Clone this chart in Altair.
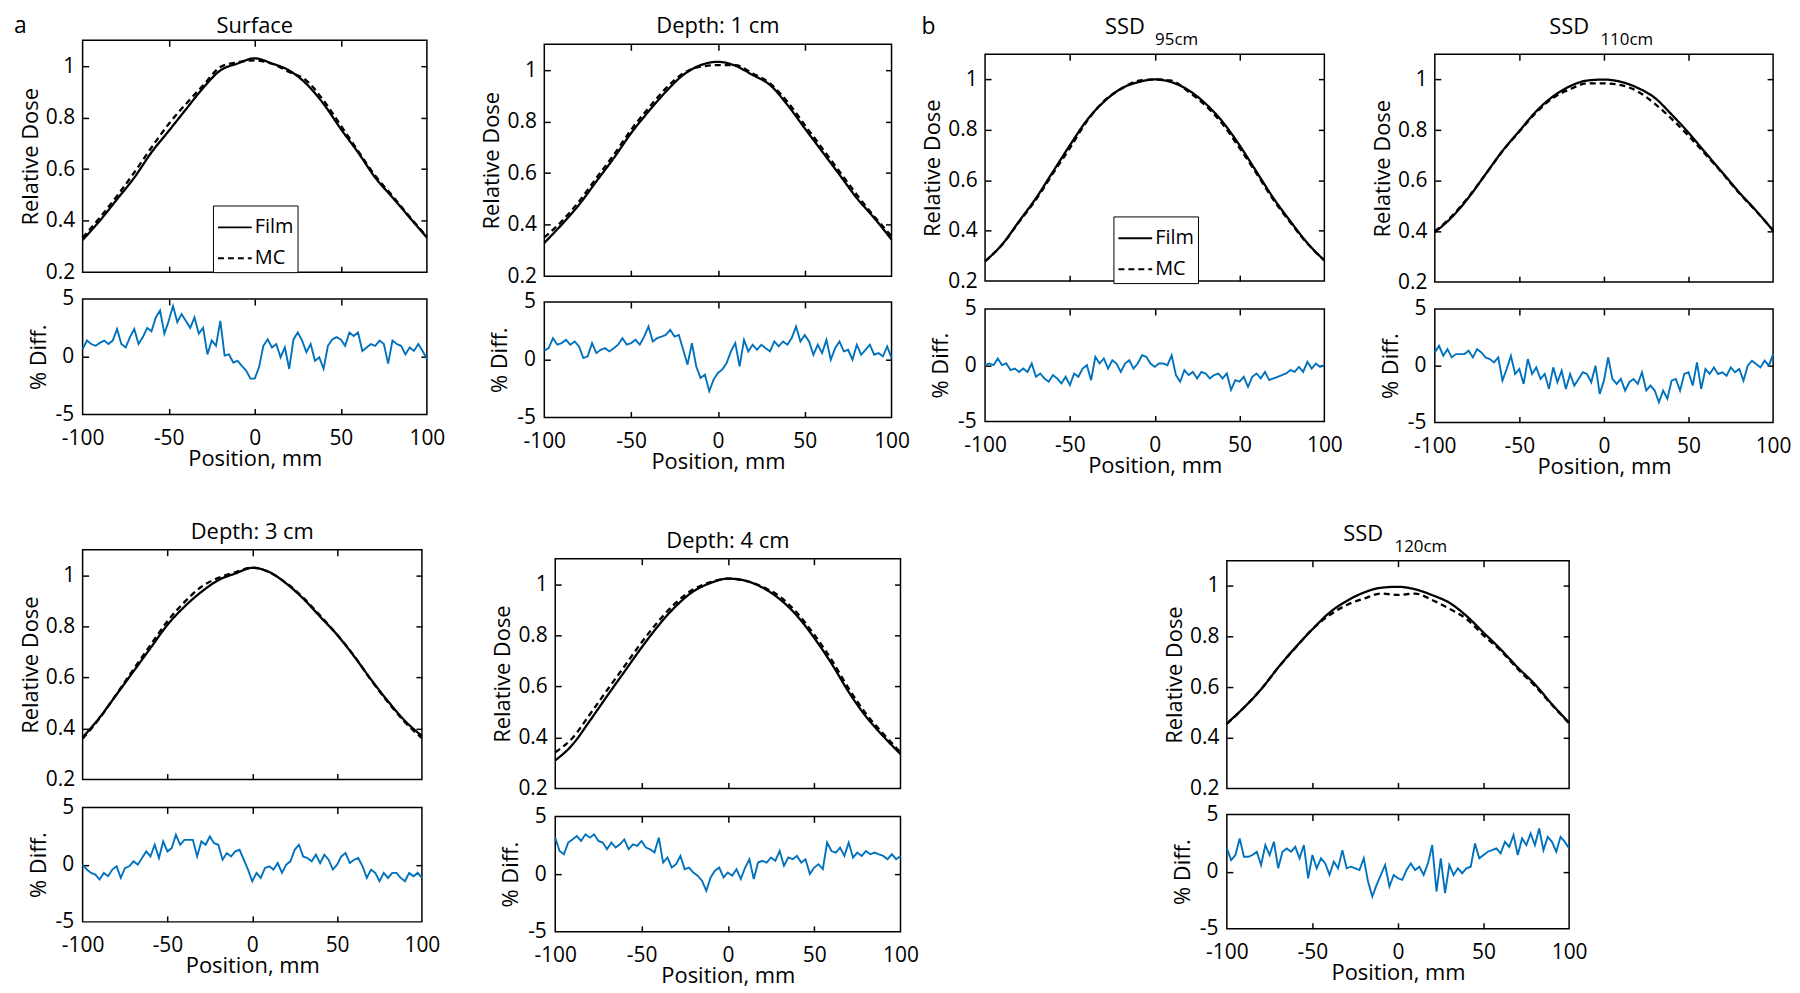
import altair as alt
import pandas as pd

FONT = "Open Sans"
BLUE = "#0072BD"

# ---------------- data ----------------
POS_DOSE = [-100, -90, -80, -70, -60, -50, -40, -30, -20, -10, 0,
            10, 20, 30, 40, 50, 60, 70, 80, 90, 100]

POS_DIFF = [-100, -97.5, -95, -92.5, -90, -87.5, -85, -82.5, -80, -77.5,
            -75, -72.5, -70, -67.5, -65, -62.5, -60, -57.5, -55, -52.5,
            -50, -47.5, -45, -42.5, -40, -37.5, -35, -32.5, -30, -27.5,
            -25, -22.5, -20, -17.5, -15, -12.5, -10, -7.5, -5, -2.5,
            0, 2.5, 5, 7.5, 10, 12.5, 15, 17.5, 20, 22.5,
            25, 27.5, 30, 32.5, 35, 37.5, 40, 42.5, 45, 47.5,
            50, 52.5, 55, 57.5, 60, 62.5, 65, 67.5, 70, 72.5,
            75, 77.5, 80, 82.5, 85, 87.5, 90, 92.5, 95, 97.5, 100]

SURF_FILM = [0.325, 0.40, 0.483, 0.567, 0.665, 0.748, 0.832, 0.915, 0.983, 1.01, 1.03,
             1.01, 0.983, 0.931, 0.853, 0.756, 0.665, 0.567, 0.49, 0.412, 0.334]
SURF_MC = [0.334, 0.412, 0.496, 0.587, 0.684, 0.775, 0.853, 0.925, 0.996, 1.015, 1.022,
           1.009, 0.977, 0.944, 0.866, 0.769, 0.671, 0.574, 0.496, 0.415, 0.338]
SURF_DIFF = [0.66, 1.4, 1.1, 0.95, 1.2, 1.4, 1.1, 1.4, 2.4, 1.1,
             0.8, 1.7, 2.4, 1.1, 1.7, 2.5, 2.2, 3.4, 4.0, 2.0,
             3.1, 4.4, 3.0, 3.7, 3.1, 2.5, 3.4, 2.0, 2.5, 0.2,
             1.4, 0.95, 3.1, 0.1, 0.2, -0.5, -0.35, -0.8, -1.2, -1.9,
             -1.9, -0.9, 0.95, 1.5, 0.8, 1.1, -0.05, 0.8, -1.05, 1.5,
             2.1, 1.4, 0.4, 1.1, -0.35, -0.05, -1.05, 0.95, 1.5, 1.7,
             1.5, 0.95, 2.1, 1.8, 2.1, 0.5, 0.8, 1.1, 0.95, 1.4,
             1.1, -0.6, 1.4, 1.1, 0.95, 0.2, 0.8, 0.5, 1.1, 0.5, -0.2]

DEP1_FILM = [0.329, 0.40, 0.477, 0.568, 0.658, 0.755, 0.839, 0.916, 0.981, 1.019, 1.032,
             1.017, 0.981, 0.942, 0.865, 0.774, 0.684, 0.594, 0.503, 0.426, 0.342]
DEP1_MC = [0.35, 0.413, 0.49, 0.581, 0.671, 0.768, 0.852, 0.929, 0.987, 1.013, 1.019,
           1.019, 0.987, 0.948, 0.877, 0.787, 0.697, 0.606, 0.516, 0.432, 0.355]
DEP1_DIFF = [0.78, 1.0, 1.87, 1.3, 1.44, 1.72, 1.3, 1.58, 1.15, 0.14,
             0.29, 1.44, 0.57, 0.86, 1.0, 0.72, 1.0, 1.3, 1.87, 1.3,
             1.44, 1.72, 1.3, 2.0, 2.87, 1.58, 1.87, 2.0, 2.15, 2.59,
             2.0, 2.15, 0.86, -0.43, 1.44, -0.57, -1.58, -1.29, -2.73, -1.72,
             -1.15, -0.86, -0.29, 0.72, 1.44, -0.57, 1.72, 0.72, 1.3, 0.86,
             1.3, 1.0, 0.72, 1.58, 1.15, 1.58, 1.3, 1.87, 2.87, 1.58,
             2.15, 1.58, 0.43, 1.3, 0.57, 1.72, 0.0, 1.0, 1.58, 0.72,
             0.86, 0.0, 1.3, 0.43, 0.86, 1.3, 0.43, 0.57, 0.29, 1.15, 0.14]

SSD95_FILM = [0.279, 0.345, 0.437, 0.529, 0.634, 0.739, 0.838, 0.911, 0.963, 0.989, 1.0,
              0.989, 0.957, 0.904, 0.832, 0.739, 0.634, 0.529, 0.437, 0.351, 0.282]
SSD95_MC = [0.279, 0.344, 0.434, 0.523, 0.627, 0.728, 0.834, 0.914, 0.962, 0.994, 1.0,
            0.995, 0.951, 0.896, 0.823, 0.728, 0.627, 0.522, 0.432, 0.349, 0.282]
SSD95_DIFF = [0, 0.15, 0, 0.6, 0, 0.15, -0.44, -0.3, -0.6, -0.3,
              -0.6, 0.15, -1.03, -0.74, -1.18, -1.47, -0.88, -1.18, -1.62, -1.03,
              -1.77, -0.74, -1.03, -0.3, 0, -1.33, 0.74, 0.15, 0.6, -0.3,
              0.44, 0.15, -0.6, 0.15, 0.44, -0.3, 0.15, 0.88, 0.74, 0.15,
              -0.15, 0.15, 0.15, 0, 0.88, -0.88, -1.47, -0.44, -0.88, -0.6,
              -1.18, -0.6, -0.74, -1.18, -0.88, -0.74, -1.18, -0.74, -2.2, -1.33,
              -1.47, -1.03, -1.92, -1.03, -0.74, -1.18, -0.6, -1.33, -1.18, -1.03,
              -0.88, -0.74, -0.44, -0.6, -0.15, -0.6, 0.3, -0.3, 0.15, -0.15, 0]

SSD110_FILM = [0.397, 0.456, 0.534, 0.626, 0.718, 0.797, 0.875, 0.934, 0.974, 0.996, 1.0,
               0.991, 0.967, 0.928, 0.862, 0.79, 0.711, 0.633, 0.554, 0.482, 0.403]
SSD110_MC = [0.40, 0.46, 0.537, 0.626, 0.717, 0.795, 0.87, 0.928, 0.962, 0.985, 0.985,
             0.978, 0.953, 0.905, 0.845, 0.778, 0.705, 0.63, 0.551, 0.48, 0.405]
SSD110_DIFF = [1.17, 1.75, 0.88, 1.46, 0.73, 1.02, 1.02, 1.02, 1.32, 0.73,
               1.46, 1.17, 0.73, 0.58, 0.29, 0.73, -1.32, -0.29, 0.88, -0.73,
               -0.29, -1.61, 0.58, -0.73, -0.15, -1.17, -0.73, -2.05, -0.15, -1.46,
               -0.44, -2.05, -0.73, -1.75, -1.17, -0.58, -0.73, -1.46, 0, -2.49,
               -1.32, 0.73, -1.17, -1.61, -1.17, -2.19, -1.46, -1.17, -1.61, -0.58,
               -2.19, -1.75, -2.19, -3.22, -2.19, -2.92, -1.32, -1.17, -2.19, -0.73,
               -0.58, -1.75, 0.29, -2.05, -0.29, -0.73, -0.15, -0.73, -0.58, -0.88,
               -0.15, -0.58, -0.29, -1.32, 0, 0.44, 0.15, -0.15, 0.44, 0, 1.02]

DEP3_FILM = [0.365, 0.443, 0.533, 0.624, 0.715, 0.806, 0.877, 0.935, 0.981, 1.007, 1.029,
             1.013, 0.968, 0.909, 0.838, 0.767, 0.683, 0.592, 0.507, 0.43, 0.371]
DEP3_MC = [0.36, 0.44, 0.535, 0.632, 0.727, 0.82, 0.895, 0.955, 0.99, 1.012, 1.03,
           1.012, 0.97, 0.913, 0.842, 0.768, 0.685, 0.59, 0.503, 0.425, 0.362]
DEP3_DIFF = [0, -0.43, -0.72, -0.87, -1.3, -0.72, -1.01, -0.43, -0.14, -1.16,
             -0.29, -0.14, 0.29, 0, 0.58, 1.16, 0.72, 1.74, 0.58, 2.03,
             1.16, 1.45, 2.61, 1.74, 2.17, 2.17, 2.17, 0.72, 2.03, 1.74,
             2.46, 1.88, 1.74, 0.43, 1.01, 0.72, 1.16, 1.3, 0.43, -0.43,
             -1.45, -0.72, -1.16, -0.29, -0.14, -0.43, 0.14, -0.72, 0, 0.29,
             1.3, 1.74, 0.72, 0.58, 0.29, 0.87, 0.14, 0.87, 0.43, -0.43,
             0, 0.72, 1.01, 0.14, 0.43, 0.58, -0.14, -1.16, -0.43, -0.72,
             -1.45, -0.72, -1.16, -0.72, -0.72, -1.16, -1.45, -0.72, -1.01, -0.72, -1.16]

DEP4_FILM = [0.31, 0.372, 0.465, 0.562, 0.657, 0.752, 0.84, 0.915, 0.972, 1.005, 1.022,
             1.014, 0.987, 0.942, 0.877, 0.79, 0.69, 0.578, 0.482, 0.405, 0.335]
DEP4_MC = [0.342, 0.398, 0.49, 0.585, 0.678, 0.772, 0.857, 0.928, 0.98, 1.008, 1.022,
           1.014, 0.99, 0.952, 0.888, 0.803, 0.705, 0.592, 0.493, 0.415, 0.342]
DEP4_DIFF = [3.16, 2.0, 1.72, 2.73, 3.0, 3.3, 2.87, 3.45, 3.16, 3.45,
             2.87, 2.73, 2.15, 2.73, 2.3, 2.58, 3.0, 2.15, 2.58, 2.44,
             2.87, 2.3, 2.15, 1.87, 3.16, 1.0, 1.44, 0.57, 0.86, 1.58,
             0.43, 0.57, 0.14, -0.14, -0.57, -1.44, -0.29, 0.29, 0.57, -0.29,
             0.14, -0.14, 0.43, -0.43, 0.57, 1.29, -0.43, 1.0, 1.15, 1.0,
             1.44, 1.15, 2.0, 0.72, 1.44, 1.29, 1.58, 1.0, 1.29, 0,
             0.57, 0.86, 0.43, 2.73, 2.0, 1.87, 2.3, 1.58, 2.73, 1.44,
             1.87, 1.58, 2.0, 1.72, 1.87, 1.72, 1.58, 1.29, 1.72, 1.29, 1.58]

SSD120_FILM = [0.457, 0.52, 0.592, 0.678, 0.757, 0.829, 0.895, 0.941, 0.974, 0.993, 0.997,
               0.987, 0.964, 0.934, 0.882, 0.816, 0.75, 0.678, 0.612, 0.533, 0.46]
SSD120_MC = [0.455, 0.52, 0.592, 0.678, 0.755, 0.83, 0.885, 0.925, 0.95, 0.97, 0.965,
             0.97, 0.945, 0.91, 0.87, 0.805, 0.745, 0.672, 0.605, 0.53, 0.457]
SSD120_DIFF = [2.03, 1.01, 1.45, 2.9, 1.3, 1.3, 1.45, 1.74, 0.58, 2.32,
               1.45, 2.61, 0.29, 1.74, 2.03, 1.74, 2.17, 1.16, 2.32, -0.58,
               1.45, 0.29, 1.16, 0.72, -0.29, 0.87, 0.29, 1.88, 0.29, 0.43,
               0.29, 0.14, 1.16, -0.87, -2.17, -1.16, -0.29, 0.58, -1.3, -0.29,
               -0.58, -0.72, 0.14, 0.72, 0.14, 0.43, -0.29, 0.72, 2.32, -1.74,
               1.16, -1.88, 0.58, -0.29, 0.29, -0.14, 0.29, 0.43, 2.46, 1.16,
               1.45, 1.74, 1.88, 2.03, 1.59, 2.61, 2.17, 3.19, 1.45, 2.9,
               2.32, 3.33, 2.32, 3.77, 1.88, 3.04, 2.61, 1.74, 3.04, 2.61, 2.03]

SERIES = ["Film", "MC"]
X_LABELS = [-100, -50, 0, 50, 100]
X_TICKS = [-50, 0, 50]
DOSE_LABELS = [0.2, 0.4, 0.6, 0.8, 1]
DOSE_TICKS = [0.4, 0.6, 0.8, 1]
DIFF_LABELS = [-5, 0, 5]
DIFF_TICKS = [0]

PANELS = {
    "surface": dict(film=SURF_FILM, mc=SURF_MC, diff=SURF_DIFF, title="Surface", letter="a", legend=True),
    "depth1": dict(film=DEP1_FILM, mc=DEP1_MC, diff=DEP1_DIFF, title="Depth: 1 cm"),
    "ssd95": dict(film=SSD95_FILM, mc=SSD95_MC, diff=SSD95_DIFF, ssd="95cm", letter="b", legend=True),
    "ssd110": dict(film=SSD110_FILM, mc=SSD110_MC, diff=SSD110_DIFF, ssd="110cm"),
    "depth3": dict(film=DEP3_FILM, mc=DEP3_MC, diff=DEP3_DIFF, title="Depth: 3 cm"),
    "depth4": dict(film=DEP4_FILM, mc=DEP4_MC, diff=DEP4_DIFF, title="Depth: 4 cm"),
    "ssd120": dict(film=SSD120_FILM, mc=SSD120_MC, diff=SSD120_DIFF, ssd="120cm"),
}

# ---------------- layout (pixels) ----------------
# x, y: top-left corner of each dose plot area on the canvas;
# mt: room kept above the dose plot for its title texts
LAYOUT = {
    "surface": dict(x=74, y=27, w=346, dose_h=233, gap=25, diff_h=116, mt=25, title_off=7,
                    letter_xy=(-69, -7), leg_xy=(131, 166)),
    "depth1": dict(x=536, y=31, w=349, dose_h=233, gap=24, diff_h=116, mt=30, title_off=11),
    "ssd95": dict(x=977, y=41, w=341, dose_h=228, gap=26, diff_h=113, mt=38, ssd_dx=(-30, 22),
                  letter_xy=(-64, -20), leg_xy=(129, 163)),
    "ssd110": dict(x=1427, y=41, w=340, dose_h=229, gap=25, diff_h=114, mt=38, ssd_dx=(-35, 23), mr=17),
    "depth3": dict(x=70, y=533, w=341, dose_h=231, gap=26, diff_h=115, mt=30, title_off=11),
    "depth4": dict(x=543, y=542, w=347, dose_h=231, gap=26, diff_h=116, mt=30, title_off=11),
    "ssd120": dict(x=1216, y=544, w=344, dose_h=229, gap=24, diff_h=115, mt=38, ssd_dx=(-35, 23)),
}
ROWS = [["surface", "depth1", "ssd95", "ssd110"], ["depth3", "depth4", "ssd120"]]
MR = 22      # room right of a plot
EDGE = 12    # room between dose and diff plots
MB = [70, 58]  # room below diff plots, per row
LABEL_SIZE = 21
TITLE_SIZE = 22

NEG = "(datum.value < 0 ? '-' : '') + format(abs(datum.value), '~g')"
FRAME_DF = pd.DataFrame({"f": [0]})

# spacer heights and left margins so that every plot lands on its x, y
row_top = 0
for r, keys in enumerate(ROWS):
    cx = 0
    bottom = 0
    for k in keys:
        L = LAYOUT[k]
        L["s"] = L["gap"] - 2 * EDGE
        L["ml"] = L["x"] - cx
        L["sp"] = L["y"] - row_top - L["s"] - L["mt"]
        L.setdefault("mr", MR)
        L["mb"] = MB[r]
        cx = L["x"] + L["w"] + L["mr"]
        bottom = max(bottom, L["y"] - row_top + L["dose_h"] + L["gap"] + L["diff_h"] + L["mb"])
    row_top += bottom


def frame(x1, x2, y1, y2):
    return alt.Chart(FRAME_DF).mark_rect(opacity=0).encode(
        x=alt.value(x1), x2=alt.value(x2), y=alt.value(y1), y2=alt.value(y2))


def spacer(h):
    return frame(0, 1, 0, h).properties(width=1, height=h,
                                        view=alt.ViewBackground(stroke="transparent"))


def tick_axis(orient, off, vals):
    return alt.Axis(orient=orient, offset=off, values=vals, labels=False, domain=False,
                    ticks=True, tickSize=6, tickWidth=1.5, tickColor="black",
                    title=None, grid=False)


def tick_layers(df, xf, yf, xs, ys, w, h, xt, yt):
    a = alt.Chart(df).mark_line(strokeOpacity=0).encode(
        x=alt.X(xf, scale=xs, axis=tick_axis("top", -h, xt)),
        y=alt.Y(yf, scale=ys, axis=tick_axis("right", -w, yt)),
    )
    b = alt.Chart(df).mark_line(strokeOpacity=0).encode(
        x=alt.X(xf, scale=xs, axis=tick_axis("bottom", -h, xt)),
        y=alt.Y(yf, scale=ys, axis=tick_axis("left", -w, yt)),
    )
    return [a, b]


def text_layer(txt, x, y, size, align="center"):
    return alt.Chart(pd.DataFrame({"label": [txt]})).mark_text(
        align=align, baseline="alphabetic", font=FONT, fontSize=size, color="black"
    ).encode(x=alt.value(x), y=alt.value(y), text="label:N")


def dose_chart(key):
    p, L = PANELS[key], LAYOUT[key]
    w, h = L["w"], L["dose_h"]
    n = len(POS_DOSE)
    df = pd.DataFrame({
        "pos": POS_DOSE + POS_DOSE,
        "dose": p["film"] + p["mc"],
        "series": [SERIES[0]] * n + [SERIES[1]] * n,
    })
    xs = alt.Scale(domain=[-100, 100], nice=False, zero=False)
    ys = alt.Scale(domain=[0.2, 1.1], nice=False, zero=False)
    legend = None
    if p.get("legend"):
        lx, ly = L["leg_xy"]
        legend = alt.Legend(
            orient="none", legendX=lx, legendY=ly, title=None,
            symbolType="stroke", symbolSize=1150, symbolStrokeWidth=2,
            symbolStrokeColor="black", labelFont=FONT, labelFontSize=20,
            labelColor="black", strokeColor="black", fillColor="white",
            padding=4, rowPadding=3, labelOffset=2,
        )
    main = alt.Chart(df).mark_line(color="black", strokeWidth=2.3, interpolate="monotone").encode(
        x=alt.X("pos:Q", scale=xs, axis=None),
        y=alt.Y("dose:Q", scale=ys, axis=alt.Axis(
            orient="left", values=DOSE_LABELS, format="~g", title="Relative Dose",
            ticks=False, tickSize=0, domain=False, labelPadding=8, titlePadding=3,
            labelFlush=False, labelOverlap=False)),
        strokeDash=alt.StrokeDash("series:N", scale=alt.Scale(domain=SERIES, range=[[1, 0], [6, 4]]),
                                  legend=legend),
    )
    layers = [main] + tick_layers(df, "pos:Q", "dose:Q", xs, ys, w, h, X_TICKS, DOSE_TICKS)
    layers.append(frame(-L["ml"], w + L["mr"], -L["mt"], h + EDGE))
    if "title" in p:
        layers.append(text_layer(p["title"], w / 2, -L["title_off"], TITLE_SIZE))
    if "ssd" in p:
        dx1, dx2 = L["ssd_dx"]
        layers.append(text_layer("SSD", w / 2 + dx1, -20, 22))
        layers.append(text_layer(p["ssd"], w / 2 + dx2, -9, 17))
    if "letter" in p:
        lx, ly = L["letter_xy"]
        layers.append(text_layer(p["letter"], lx, ly, 23, align="left"))
    return alt.layer(*layers).resolve_axis(x="independent", y="independent").properties(width=w, height=h)


def diff_chart(key):
    p, L = PANELS[key], LAYOUT[key]
    w, h = L["w"], L["diff_h"]
    df = pd.DataFrame({"pos": POS_DIFF, "diff": p["diff"]})
    xs = alt.Scale(domain=[-100, 100], nice=False, zero=False)
    ys = alt.Scale(domain=[-5, 5], nice=False, zero=False)
    main = alt.Chart(df).mark_line(color=BLUE, strokeWidth=1.9).encode(
        x=alt.X("pos:Q", scale=xs, axis=alt.Axis(
            orient="bottom", values=X_LABELS, labelExpr=NEG, title="Position, mm",
            ticks=False, tickSize=0, domain=False, labelPadding=13, titlePadding=0,
            labelFlush=False, labelOverlap=False)),
        y=alt.Y("diff:Q", scale=ys, axis=alt.Axis(
            orient="left", values=DIFF_LABELS, labelExpr=NEG, title="% Diff.",
            ticks=False, tickSize=0, domain=False, labelPadding=9, titlePadding=5,
            labelFlush=False, labelOverlap=False)),
    )
    layers = [main] + tick_layers(df, "pos:Q", "diff:Q", xs, ys, w, h, X_TICKS, DIFF_TICKS)
    layers.append(frame(-L["ml"], w + L["mr"], -EDGE, h + L["mb"]))
    return alt.layer(*layers).resolve_axis(x="independent", y="independent").properties(width=w, height=h)


def panel(key):
    L = LAYOUT[key]
    return alt.vconcat(spacer(L["sp"]), dose_chart(key), diff_chart(key),
                       spacing=L["s"]).resolve_scale(strokeDash="independent")


rows = [alt.hconcat(*[panel(k) for k in keys], spacing=0).resolve_scale(strokeDash="independent")
        for keys in ROWS]
chart = alt.vconcat(*rows, spacing=0).resolve_scale(strokeDash="independent")
chart = chart.properties(padding=0).configure(font=FONT).configure_view(
    stroke="black", strokeWidth=1.5
).configure_axis(
    labelFont=FONT, titleFont=FONT, labelFontSize=LABEL_SIZE, titleFontSize=TITLE_SIZE,
    labelColor="black", titleColor="black", titleFontWeight="normal", grid=False
)

chart.save("out.html", embed_options={"renderer": "svg", "actions": False})
